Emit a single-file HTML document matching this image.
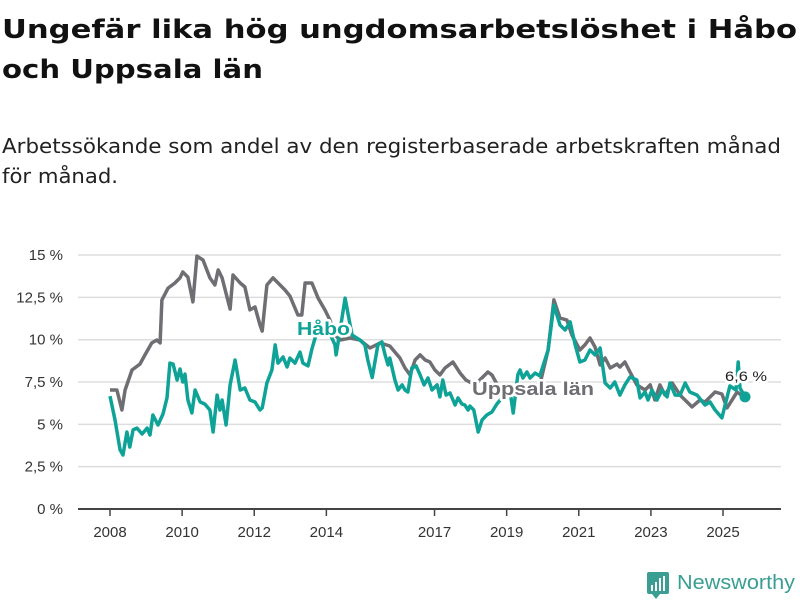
<!DOCTYPE html>
<html><head><meta charset="utf-8"><style>
body{margin:0;background:#fff;width:800px;height:600px;overflow:hidden;font-family:"Liberation Sans",sans-serif}
svg{position:absolute;left:0;top:0}
.t{font-family:"DejaVu Sans","Liberation Sans",sans-serif}
</style></head><body>
<svg id="chart" width="800" height="600">
<text class="t" x="2" y="38" font-size="26" font-weight="bold" fill="#111" textLength="795" lengthAdjust="spacingAndGlyphs">Ungefär lika hög ungdomsarbetslöshet i Håbo</text>
<text class="t" x="2" y="78" font-size="26" font-weight="bold" fill="#111" textLength="261" lengthAdjust="spacingAndGlyphs">och Uppsala län</text>
<text class="t" x="2" y="153" font-size="20" fill="#222" textLength="779" lengthAdjust="spacingAndGlyphs">Arbetssökande som andel av den registerbaserade arbetskraften månad</text>
<text class="t" x="2" y="183" font-size="20" fill="#222" textLength="116" lengthAdjust="spacingAndGlyphs">för månad.</text>
<g id="grid"></g><g id="lines"></g><g id="labels"></g>
<g>
<rect x="647" y="572" width="22" height="22" rx="2" fill="#3a9e92"/>
<polygon points="652,594 660,594 656,599" fill="#3a9e92"/>
<rect x="651" y="585" width="2" height="6" fill="#fff"/><rect x="655" y="582" width="2" height="9" fill="#fff"/><rect x="659" y="578" width="2" height="13" fill="#fff"/><rect x="663" y="576" width="2" height="15" fill="#fff"/>
<text x="677" y="589" font-size="20" fill="#3a9e92" textLength="118" lengthAdjust="spacingAndGlyphs">Newsworthy</text>
</g>
</svg>
<script>
const yTicks=[0,2.5,5,7.5,10,12.5,15];
const yTickLabels=["0 %","2,5 %","5 %","7,5 %","10 %","12,5 %","15 %"];
const xTicks=[2008,2010,2012,2014,2017,2019,2021,2023,2025];
const uppsalaYears=[2008.00,2008.19,2008.33,2008.42,2008.61,2008.83,2008.97,2009.16,2009.30,2009.39,2009.44,2009.61,2009.80,2009.94,2010.02,2010.16,2010.30,2010.41,2010.58,2010.77,2010.91,2011.00,2011.11,2011.33,2011.41,2011.61,2011.74,2011.88,2012.02,2012.16,2012.22,2012.35,2012.52,2012.85,2012.99,2013.21,2013.32,2013.41,2013.60,2013.77,2013.96,2014.10,2014.24,2014.38,2014.66,2014.93,2015.21,2015.49,2015.76,2016.04,2016.18,2016.32,2016.46,2016.60,2016.74,2016.87,2017.01,2017.15,2017.29,2017.51,2017.71,2017.87,2018.12,2018.48,2018.59,2018.82,2019.09,2019.37,2019.65,2019.92,2020.15,2020.31,2020.48,2020.67,2020.81,2021.03,2021.17,2021.31,2021.45,2021.59,2021.73,2021.87,2022.06,2022.14,2022.28,2022.42,2022.61,2022.84,2022.98,2023.11,2023.25,2023.39,2023.59,2023.81,2024.14,2024.36,2024.50,2024.78,2024.97,2025.11,2025.39,2025.61];
const uppsalaValues=[7.03,7.03,5.85,7.03,8.21,8.56,9.10,9.81,9.98,9.81,12.35,13.05,13.35,13.65,14.00,13.70,12.23,14.94,14.71,13.65,13.23,14.12,13.65,11.81,13.82,13.35,13.11,11.76,11.93,10.87,10.51,13.23,13.65,12.94,12.58,11.46,11.46,13.35,13.35,12.46,11.76,11.16,10.28,9.98,10.10,9.98,9.51,9.81,9.63,8.92,8.33,7.92,8.80,9.10,8.80,8.68,8.21,7.92,8.33,8.68,8.03,7.62,7.33,8.09,7.92,7.03,6.73,7.03,7.33,7.33,9.39,12.35,11.28,11.16,10.28,9.39,9.69,10.10,9.57,8.51,8.92,8.33,8.56,8.39,8.68,8.09,7.33,7.03,7.33,6.44,7.33,6.73,7.44,6.73,6.03,6.44,6.32,6.91,6.79,5.97,6.91,6.56];
const haboYears=[2008.00,2008.14,2008.28,2008.36,2008.47,2008.55,2008.64,2008.75,2008.89,2009.03,2009.11,2009.19,2009.33,2009.47,2009.58,2009.66,2009.75,2009.86,2009.94,2010.02,2010.08,2010.16,2010.27,2010.36,2010.50,2010.63,2010.77,2010.86,2010.97,2011.05,2011.11,2011.22,2011.33,2011.47,2011.61,2011.74,2011.88,2012.02,2012.16,2012.22,2012.35,2012.49,2012.58,2012.66,2012.80,2012.91,2012.99,2013.13,2013.27,2013.35,2013.49,2013.60,2013.68,2013.82,2014.05,2014.24,2014.27,2014.38,2014.52,2014.71,2014.93,2015.07,2015.15,2015.27,2015.43,2015.54,2015.63,2015.71,2015.76,2015.90,2015.99,2016.10,2016.18,2016.26,2016.37,2016.49,2016.60,2016.71,2016.82,2016.93,2017.07,2017.15,2017.23,2017.32,2017.43,2017.57,2017.65,2017.76,2017.84,2017.93,2017.98,2018.09,2018.21,2018.32,2018.45,2018.59,2018.73,2018.82,2018.95,2019.09,2019.18,2019.31,2019.37,2019.45,2019.56,2019.65,2019.79,2019.92,2020.15,2020.31,2020.48,2020.62,2020.76,2020.90,2021.03,2021.17,2021.31,2021.45,2021.59,2021.73,2021.87,2022.00,2022.14,2022.28,2022.42,2022.61,2022.70,2022.84,2022.92,2023.03,2023.17,2023.31,2023.45,2023.53,2023.67,2023.81,2023.95,2024.08,2024.28,2024.50,2024.64,2024.78,2024.97,2025.19,2025.36,2025.42,2025.47,2025.61];
const haboValues=[6.67,5.26,3.49,3.19,4.55,3.66,4.67,4.78,4.43,4.78,4.37,5.55,4.96,5.61,6.56,8.62,8.56,7.62,8.27,7.50,7.97,6.44,5.67,7.03,6.32,6.20,5.85,4.55,6.73,5.85,6.44,4.96,7.33,8.80,7.03,7.15,6.44,6.32,5.85,5.97,7.44,8.21,9.69,8.62,8.98,8.39,8.92,8.62,9.27,8.62,8.45,9.45,10.04,10.87,10.57,9.69,9.10,10.57,12.46,10.28,9.98,9.69,8.80,7.76,9.69,9.87,9.10,8.51,8.92,7.62,7.03,7.33,7.03,6.91,8.33,8.45,7.92,7.33,7.74,7.03,7.33,6.62,7.62,6.73,6.85,6.14,6.56,6.20,6.14,5.85,6.08,5.85,4.55,5.26,5.55,5.73,6.20,6.44,6.73,7.03,5.67,7.92,8.21,7.74,8.09,7.74,8.03,7.86,9.39,12.05,10.87,10.57,11.05,9.69,8.68,8.80,9.39,9.10,9.51,7.44,7.15,7.50,6.73,7.33,7.80,7.62,6.56,6.91,6.44,7.03,6.44,7.03,6.62,7.44,6.73,6.73,7.44,6.91,6.73,6.14,6.32,5.85,5.38,7.27,7.03,8.68,7.15,6.62];

const NS="http://www.w3.org/2000/svg";
const xs=y=>110+(y-2008)*36.06;
const ys=v=>509-v*16.93;
function mk(tag,attrs,parent){const e=document.createElementNS(NS,tag);for(const k in attrs)e.setAttribute(k,attrs[k]);parent.appendChild(e);return e;}
const grid=document.getElementById('grid'),lines=document.getElementById('lines'),labels=document.getElementById('labels');
yTicks.forEach((t,i)=>{
  const l=mk('line',{x1:78,x2:781,y1:ys(t),y2:ys(t),stroke:t===0?'#444':'#ddd','stroke-width':t===0?2:1.5},grid);
  
  
  const tx=mk('text',{x:63,y:ys(t)+5,'text-anchor':'end','font-size':15,fill:'#333'},grid);
  tx.textContent=yTickLabels[i];
  
  
});
xTicks.forEach(t=>{
  const l=mk('line',{x1:xs(t),x2:xs(t),y1:509,y2:516,stroke:'#444','stroke-width':1.5},grid);
  
  
  const tx=mk('text',{x:xs(t),y:537,'text-anchor':'middle','font-size':15,fill:'#333'},grid);
  tx.textContent=t;
  
  
});
function path(Y,V){return Y.map((y,i)=>(i?'L':'M')+xs(y).toFixed(1)+','+ys(V[i]).toFixed(1)).join('');}
const pu=mk('path',{d:path(uppsalaYears,uppsalaValues),fill:'none',stroke:'#6f6e73','stroke-width':3.5,'stroke-linejoin':'round'},lines);


const ph=mk('path',{d:path(haboYears,haboValues),fill:'none',stroke:'#0fa398','stroke-width':3.5,'stroke-linejoin':'round'},lines);


const n=haboYears.length-1;
const dot=mk('circle',{cx:xs(haboYears[n]),cy:ys(haboValues[n]),r:5.5,fill:'#0fa398'},lines);


function lab(txt,x,y,fill,size,weight,name,len){const t=mk('text',{x:x,y:y,fill:fill,'font-size':size,'font-weight':weight,stroke:'#fff','stroke-width':5,'paint-order':'stroke','stroke-linejoin':'round',textLength:len,lengthAdjust:'spacingAndGlyphs'},labels);t.textContent=txt;

}
lab('Håbo',297,335,'#0fa398',18,'bold','habo-series-label',53);
lab('Uppsala län',472,395,'#6f6e73',18,'bold','uppsala-series-label',122);
lab('6,6 %',725,381,'#222',14,'normal','habo-end-value-label',42);
</script>
</body></html>
